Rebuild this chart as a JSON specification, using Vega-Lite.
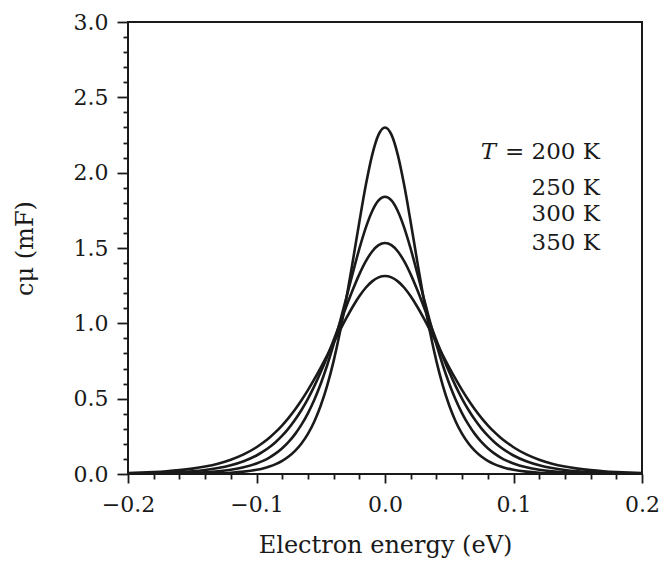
{
  "$schema": "https://vega.github.io/schema/vega-lite/v6.json",
  "width": 514,
  "height": 452,
  "autosize": {"type": "none"},
  "padding": {"left": 128, "top": 22, "right": 22, "bottom": 87},
  "background": "white",
  "config": {
    "font": "DejaVu Serif",
    "view": {"stroke": "#1a1a1a", "strokeWidth": 2},
    "axis": {
      "grid": false,
      "domain": false,
      "labelFlush": false,
      "labelOverlap": false,
      "tickColor": "#1a1a1a",
      "tickWidth": 1.8,
      "labelFont": "DejaVu Serif",
      "labelFontSize": 22,
      "labelColor": "#1a1a1a",
      "titleFont": "DejaVu Serif",
      "titleFontSize": 24,
      "titleFontWeight": "normal",
      "titleColor": "#1a1a1a"
    }
  },
  "datasets": {
    "curves": [
      {"T":200,"E":-0.2,"c":0.0001},{"T":200,"E":-0.19,"c":0.0002},{"T":200,"E":-0.18,"c":0.0003},{"T":200,"E":-0.17,"c":0.0005},{"T":200,"E":-0.16,"c":0.0009},{"T":200,"E":-0.15,"c":0.0015},{"T":200,"E":-0.14,"c":0.0027},{"T":200,"E":-0.13,"c":0.0049},{"T":200,"E":-0.12,"c":0.0087},{"T":200,"E":-0.11,"c":0.0155},
      {"T":200,"E":-0.1,"c":0.0276},{"T":200,"E":-0.095,"c":0.0369},{"T":200,"E":-0.09,"c":0.0491},{"T":200,"E":-0.085,"c":0.0654},{"T":200,"E":-0.08,"c":0.0870},{"T":200,"E":-0.075,"c":0.1156},{"T":200,"E":-0.07,"c":0.1531},{"T":200,"E":-0.065,"c":0.2024},{"T":200,"E":-0.06,"c":0.2664},{"T":200,"E":-0.055,"c":0.3490},{"T":200,"E":-0.05,"c":0.4543},{"T":200,"E":-0.045,"c":0.5865},{"T":200,"E":-0.04,"c":0.7490},{"T":200,"E":-0.035,"c":0.9435},{"T":200,"E":-0.03,"c":1.1680},{"T":200,"E":-0.025,"c":1.4154},{"T":200,"E":-0.02,"c":1.6713},{"T":200,"E":-0.015,"c":1.9141},{"T":200,"E":-0.01,"c":2.1168},{"T":200,"E":-0.005,"c":2.2523},
      {"T":200,"E":0,"c":2.30},
      {"T":200,"E":0.005,"c":2.2523},{"T":200,"E":0.01,"c":2.1168},{"T":200,"E":0.015,"c":1.9141},{"T":200,"E":0.02,"c":1.6713},{"T":200,"E":0.025,"c":1.4154},{"T":200,"E":0.03,"c":1.1680},{"T":200,"E":0.035,"c":0.9435},{"T":200,"E":0.04,"c":0.7490},{"T":200,"E":0.045,"c":0.5865},{"T":200,"E":0.05,"c":0.4543},{"T":200,"E":0.055,"c":0.3490},{"T":200,"E":0.06,"c":0.2664},{"T":200,"E":0.065,"c":0.2024},{"T":200,"E":0.07,"c":0.1531},{"T":200,"E":0.075,"c":0.1156},{"T":200,"E":0.08,"c":0.0870},{"T":200,"E":0.085,"c":0.0654},{"T":200,"E":0.09,"c":0.0491},{"T":200,"E":0.095,"c":0.0369},{"T":200,"E":0.1,"c":0.0276},
      {"T":200,"E":0.11,"c":0.0155},{"T":200,"E":0.12,"c":0.0087},{"T":200,"E":0.13,"c":0.0049},{"T":200,"E":0.14,"c":0.0027},{"T":200,"E":0.15,"c":0.0015},{"T":200,"E":0.16,"c":0.0009},{"T":200,"E":0.17,"c":0.0005},{"T":200,"E":0.18,"c":0.0003},{"T":200,"E":0.19,"c":0.0002},{"T":200,"E":0.2,"c":0.0001},

      {"T":250,"E":-0.2,"c":0.0007},{"T":250,"E":-0.19,"c":0.0011},{"T":250,"E":-0.18,"c":0.0017},{"T":250,"E":-0.17,"c":0.0028},{"T":250,"E":-0.16,"c":0.0044},{"T":250,"E":-0.15,"c":0.0070},{"T":250,"E":-0.14,"c":0.0111},{"T":250,"E":-0.13,"c":0.0175},{"T":250,"E":-0.12,"c":0.0278},{"T":250,"E":-0.11,"c":0.0441},
      {"T":250,"E":-0.1,"c":0.0696},{"T":250,"E":-0.095,"c":0.0874},{"T":250,"E":-0.09,"c":0.1095},{"T":250,"E":-0.085,"c":0.1370},{"T":250,"E":-0.08,"c":0.1711},{"T":250,"E":-0.075,"c":0.2131},{"T":250,"E":-0.07,"c":0.2647},{"T":250,"E":-0.065,"c":0.3274},{"T":250,"E":-0.06,"c":0.4030},{"T":250,"E":-0.055,"c":0.4932},{"T":250,"E":-0.05,"c":0.5992},{"T":250,"E":-0.045,"c":0.7216},{"T":250,"E":-0.04,"c":0.8599},{"T":250,"E":-0.035,"c":1.0119},{"T":250,"E":-0.03,"c":1.1732},{"T":250,"E":-0.025,"c":1.3370},{"T":250,"E":-0.02,"c":1.4942},{"T":250,"E":-0.015,"c":1.6339},{"T":250,"E":-0.01,"c":1.7443},{"T":250,"E":-0.005,"c":1.8154},
      {"T":250,"E":0,"c":1.84},
      {"T":250,"E":0.005,"c":1.8154},{"T":250,"E":0.01,"c":1.7443},{"T":250,"E":0.015,"c":1.6339},{"T":250,"E":0.02,"c":1.4942},{"T":250,"E":0.025,"c":1.3370},{"T":250,"E":0.03,"c":1.1732},{"T":250,"E":0.035,"c":1.0119},{"T":250,"E":0.04,"c":0.8599},{"T":250,"E":0.045,"c":0.7216},{"T":250,"E":0.05,"c":0.5992},{"T":250,"E":0.055,"c":0.4932},{"T":250,"E":0.06,"c":0.4030},{"T":250,"E":0.065,"c":0.3274},{"T":250,"E":0.07,"c":0.2647},{"T":250,"E":0.075,"c":0.2131},{"T":250,"E":0.08,"c":0.1711},{"T":250,"E":0.085,"c":0.1370},{"T":250,"E":0.09,"c":0.1095},{"T":250,"E":0.095,"c":0.0874},{"T":250,"E":0.1,"c":0.0696},
      {"T":250,"E":0.11,"c":0.0441},{"T":250,"E":0.12,"c":0.0278},{"T":250,"E":0.13,"c":0.0175},{"T":250,"E":0.14,"c":0.0111},{"T":250,"E":0.15,"c":0.0070},{"T":250,"E":0.16,"c":0.0044},{"T":250,"E":0.17,"c":0.0028},{"T":250,"E":0.18,"c":0.0017},{"T":250,"E":0.19,"c":0.0011},{"T":250,"E":0.2,"c":0.0007},

      {"T":300,"E":-0.2,"c":0.0027},{"T":300,"E":-0.19,"c":0.0039},{"T":300,"E":-0.18,"c":0.0058},{"T":300,"E":-0.17,"c":0.0085},{"T":300,"E":-0.16,"c":0.0125},{"T":300,"E":-0.15,"c":0.0184},{"T":300,"E":-0.14,"c":0.0270},{"T":300,"E":-0.13,"c":0.0396},{"T":300,"E":-0.12,"c":0.0580},{"T":300,"E":-0.11,"c":0.0846},
      {"T":300,"E":-0.1,"c":0.1229},{"T":300,"E":-0.095,"c":0.1479},{"T":300,"E":-0.09,"c":0.1776},{"T":300,"E":-0.085,"c":0.2127},{"T":300,"E":-0.08,"c":0.2542},{"T":300,"E":-0.075,"c":0.3028},{"T":300,"E":-0.07,"c":0.3594},{"T":300,"E":-0.065,"c":0.4247},{"T":300,"E":-0.06,"c":0.4992},{"T":300,"E":-0.055,"c":0.5833},{"T":300,"E":-0.05,"c":0.6766},{"T":300,"E":-0.045,"c":0.7785},{"T":300,"E":-0.04,"c":0.8872},{"T":300,"E":-0.035,"c":1.0002},{"T":300,"E":-0.03,"c":1.1140},{"T":300,"E":-0.025,"c":1.2239},{"T":300,"E":-0.02,"c":1.3247},{"T":300,"E":-0.015,"c":1.4109},{"T":300,"E":-0.01,"c":1.4771},{"T":300,"E":-0.005,"c":1.5188},
      {"T":300,"E":0,"c":1.533},
      {"T":300,"E":0.005,"c":1.5188},{"T":300,"E":0.01,"c":1.4771},{"T":300,"E":0.015,"c":1.4109},{"T":300,"E":0.02,"c":1.3247},{"T":300,"E":0.025,"c":1.2239},{"T":300,"E":0.03,"c":1.1140},{"T":300,"E":0.035,"c":1.0002},{"T":300,"E":0.04,"c":0.8872},{"T":300,"E":0.045,"c":0.7785},{"T":300,"E":0.05,"c":0.6766},{"T":300,"E":0.055,"c":0.5833},{"T":300,"E":0.06,"c":0.4992},{"T":300,"E":0.065,"c":0.4247},{"T":300,"E":0.07,"c":0.3594},{"T":300,"E":0.075,"c":0.3028},{"T":300,"E":0.08,"c":0.2542},{"T":300,"E":0.085,"c":0.2127},{"T":300,"E":0.09,"c":0.1776},{"T":300,"E":0.095,"c":0.1479},{"T":300,"E":0.1,"c":0.1229},
      {"T":300,"E":0.11,"c":0.0846},{"T":300,"E":0.12,"c":0.0580},{"T":300,"E":0.13,"c":0.0396},{"T":300,"E":0.14,"c":0.0270},{"T":300,"E":0.15,"c":0.0184},{"T":300,"E":0.16,"c":0.0125},{"T":300,"E":0.17,"c":0.0085},{"T":300,"E":0.18,"c":0.0058},{"T":300,"E":0.19,"c":0.0039},{"T":300,"E":0.2,"c":0.0027},

      {"T":350,"E":-0.2,"c":0.0069},{"T":350,"E":-0.19,"c":0.0096},{"T":350,"E":-0.18,"c":0.0134},{"T":350,"E":-0.17,"c":0.0186},{"T":350,"E":-0.16,"c":0.0259},{"T":350,"E":-0.15,"c":0.0359},{"T":350,"E":-0.14,"c":0.0497},{"T":350,"E":-0.13,"c":0.0687},{"T":350,"E":-0.12,"c":0.0948},{"T":350,"E":-0.11,"c":0.1301},
      {"T":350,"E":-0.1,"c":0.1777},{"T":350,"E":-0.095,"c":0.2071},{"T":350,"E":-0.09,"c":0.2409},{"T":350,"E":-0.085,"c":0.2795},{"T":350,"E":-0.08,"c":0.3233},{"T":350,"E":-0.075,"c":0.3727},{"T":350,"E":-0.07,"c":0.4279},{"T":350,"E":-0.065,"c":0.4892},{"T":350,"E":-0.06,"c":0.5563},{"T":350,"E":-0.055,"c":0.6291},{"T":350,"E":-0.05,"c":0.7066},{"T":350,"E":-0.045,"c":0.7879},{"T":350,"E":-0.04,"c":0.8713},{"T":350,"E":-0.035,"c":0.9548},{"T":350,"E":-0.03,"c":1.0359},{"T":350,"E":-0.025,"c":1.1118},{"T":350,"E":-0.02,"c":1.1795},{"T":350,"E":-0.015,"c":1.2360},{"T":350,"E":-0.01,"c":1.2785},{"T":350,"E":-0.005,"c":1.3050},
      {"T":350,"E":0,"c":1.314},
      {"T":350,"E":0.005,"c":1.3050},{"T":350,"E":0.01,"c":1.2785},{"T":350,"E":0.015,"c":1.2360},{"T":350,"E":0.02,"c":1.1795},{"T":350,"E":0.025,"c":1.1118},{"T":350,"E":0.03,"c":1.0359},{"T":350,"E":0.035,"c":0.9548},{"T":350,"E":0.04,"c":0.8713},{"T":350,"E":0.045,"c":0.7879},{"T":350,"E":0.05,"c":0.7066},{"T":350,"E":0.055,"c":0.6291},{"T":350,"E":0.06,"c":0.5563},{"T":350,"E":0.065,"c":0.4892},{"T":350,"E":0.07,"c":0.4279},{"T":350,"E":0.075,"c":0.3727},{"T":350,"E":0.08,"c":0.3233},{"T":350,"E":0.085,"c":0.2795},{"T":350,"E":0.09,"c":0.2409},{"T":350,"E":0.095,"c":0.2071},{"T":350,"E":0.1,"c":0.1777},
      {"T":350,"E":0.11,"c":0.1301},{"T":350,"E":0.12,"c":0.0948},{"T":350,"E":0.13,"c":0.0687},{"T":350,"E":0.14,"c":0.0497},{"T":350,"E":0.15,"c":0.0359},{"T":350,"E":0.16,"c":0.0259},{"T":350,"E":0.17,"c":0.0186},{"T":350,"E":0.18,"c":0.0134},{"T":350,"E":0.19,"c":0.0096},{"T":350,"E":0.2,"c":0.0069}
    ]
  },
  "layer": [
    {
      "data": {"name": "curves"},
      "mark": {"type": "line", "interpolate": "monotone", "strokeWidth": 2.6, "color": "#1a1a1a", "clip": true},
      "encoding": {
        "x": {
          "field": "E", "type": "quantitative",
          "scale": {"domain": [-0.2, 0.2], "nice": false, "zero": false, "padding": 0},
          "axis": {"orient": "bottom", "values": [-0.2, -0.1, 0, 0.1, 0.2], "format": ".1f", "tickSize": 9, "labelPadding": 11, "title": "Electron energy (eV)", "titlePadding": 18}
        },
        "y": {
          "field": "c", "type": "quantitative",
          "scale": {"domain": [0, 3], "nice": false, "padding": 0},
          "axis": {"orient": "left", "values": [0, 0.5, 1, 1.5, 2, 2.5, 3], "format": ".1f", "tickSize": 11, "labelPadding": 9, "title": "cμ (mF)", "titlePadding": 36}
        },
        "detail": {"field": "T", "type": "nominal"}
      }
    },
    {
      "data": {"values": [{"E": 0, "c": 0}]},
      "mark": {"type": "point", "opacity": 0},
      "encoding": {
        "x": {
          "field": "E", "type": "quantitative",
          "axis": {"orient": "bottom", "values": [-0.18, -0.16, -0.14, -0.12, -0.08, -0.06, -0.04, -0.02, 0.02, 0.04, 0.06, 0.08, 0.12, 0.14, 0.16, 0.18], "tickSize": 5, "labels": false, "title": null}
        },
        "y": {
          "field": "c", "type": "quantitative",
          "axis": {"orient": "left", "values": [0.1, 0.2, 0.3, 0.4, 0.6, 0.7, 0.8, 0.9, 1.1, 1.2, 1.3, 1.4, 1.6, 1.7, 1.8, 1.9, 2.1, 2.2, 2.3, 2.4, 2.6, 2.7, 2.8, 2.9], "tickSize": 5, "labels": false, "title": null}
        }
      }
    },
    {
      "data": {"values": [
        {"label": "= 200 K", "E": 0.1673, "c": 2.137},
        {"label": "250 K", "E": 0.1673, "c": 1.898},
        {"label": "300 K", "E": 0.1673, "c": 1.725},
        {"label": "350 K", "E": 0.1673, "c": 1.533}
      ]},
      "mark": {"type": "text", "align": "right", "baseline": "middle", "fontSize": 23, "font": "DejaVu Serif", "color": "#1a1a1a"},
      "encoding": {
        "x": {"field": "E", "type": "quantitative", "axis": null},
        "y": {"field": "c", "type": "quantitative", "axis": null},
        "text": {"field": "label"}
      }
    },
    {
      "data": {"values": [{"label": "T", "E": 0.0865, "c": 2.137}]},
      "mark": {"type": "text", "align": "right", "baseline": "middle", "fontSize": 23, "font": "DejaVu Serif", "fontStyle": "italic", "color": "#1a1a1a"},
      "encoding": {
        "x": {"field": "E", "type": "quantitative", "axis": null},
        "y": {"field": "c", "type": "quantitative", "axis": null},
        "text": {"field": "label"}
      }
    }
  ],
  "resolve": {"axis": {"x": "independent", "y": "independent"}}
}
